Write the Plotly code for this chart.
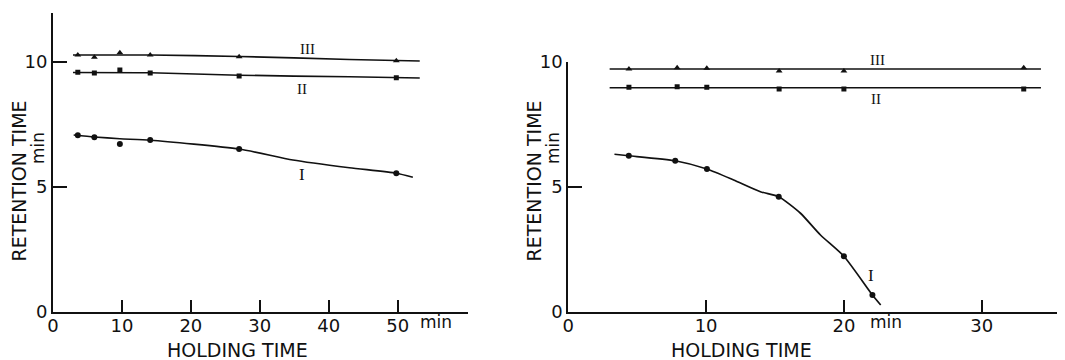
import plotly.graph_objects as go

# ---------------- data ----------------
# Left panel: measured points
left_x = [3.6, 6.0, 9.7, 14.1, 27.0, 49.8]
left_III = [10.28, 10.19, 10.37, 10.28, 10.21, 10.05]
left_II = [9.59, 9.56, 9.68, 9.56, 9.44, 9.37]
left_I = [7.07, 6.99, 6.72, 6.88, 6.52, 5.55]
# Left panel: drawn curves
left_III_cx = [2.9, 14.1, 27.0, 43.0, 53.2]
left_III_cy = [10.28, 10.28, 10.22, 10.10, 10.04]
left_II_cx = [2.9, 14.1, 27.0, 43.0, 53.2]
left_II_cy = [9.58, 9.57, 9.47, 9.41, 9.36]
left_I_cx = [3.0, 6.0, 9.7, 14.1, 27.0, 34.8, 43.0, 49.8, 52.2]
left_I_cy = [7.08, 7.00, 6.93, 6.87, 6.52, 6.08, 5.77, 5.55, 5.39]

# Right panel: measured points
right_x = [4.4, 7.9, 10.05, 15.3, 20.0, 33.05]
right_III = [9.72, 9.77, 9.75, 9.64, 9.64, 9.77]
right_II = [8.99, 9.01, 8.99, 8.92, 8.92, 8.92]
right_I_x = [4.39, 7.76, 10.06, 15.27, 20.0, 22.07]
right_I = [6.25, 6.05, 5.72, 4.61, 2.23, 0.68]
# Right panel: drawn curves
right_III_cx = [3.0, 34.3]
right_III_cy = [9.72, 9.72]
right_II_cx = [3.0, 34.3]
right_II_cy = [8.97, 8.97]
right_I_cx = [3.35, 4.39, 7.76, 10.06, 12.0, 13.94, 15.27, 16.85, 18.3, 20.0, 22.07, 22.67]
right_I_cy = [6.31, 6.25, 6.05, 5.72, 5.28, 4.81, 4.61, 3.95, 3.08, 2.23, 0.68, 0.28]

left_xticks = [0, 10, 20, 30, 40, 50]
right_xticks = [0, 10, 20, 30]
yticks = [0, 5, 10]

W, H = 1057, 352
OFF = 8  # default page margin of the browser
FONT = "DejaVu Sans"
INK = "#111111"

fig = go.Figure()

def curve(x, y, xa, ya):
    fig.add_trace(go.Scatter(x=x, y=y, mode="lines", xaxis=xa, yaxis=ya,
                             line=dict(color=INK, width=1.7, shape="spline", smoothing=0.6),
                             showlegend=False, hoverinfo="skip", cliponaxis=False))

def pts(x, y, xa, ya, symbol, size):
    fig.add_trace(go.Scatter(x=x, y=y, mode="markers", xaxis=xa, yaxis=ya,
                             marker=dict(symbol=symbol, size=size, color=INK),
                             showlegend=False, cliponaxis=False))

curve(left_III_cx, left_III_cy, "x", "y")
curve(left_II_cx, left_II_cy, "x", "y")
curve(left_I_cx, left_I_cy, "x", "y")
pts(left_x, left_III, "x", "y", "triangle-up", 6)
pts(left_x, left_II, "x", "y", "square", 5)
pts(left_x, left_I, "x", "y", "circle", 6)

curve(right_III_cx, right_III_cy, "x2", "y2")
curve(right_II_cx, right_II_cy, "x2", "y2")
curve(right_I_cx, right_I_cy, "x2", "y2")
pts(right_x, right_III, "x2", "y2", "triangle-up", 6)
pts(right_x, right_II, "x2", "y2", "square", 5)
pts(right_I_x, right_I, "x2", "y2", "circle", 6)

axis_common = dict(showline=True, linecolor=INK, linewidth=2, showgrid=False, zeroline=False,
                   ticks="inside", tickcolor=INK, tickwidth=2, automargin=False,
                   tickfont=dict(family=FONT, size=18, color=INK))

def px_x(p):
    return (p - OFF) / W

def px_y(p):
    return 1 - (p - OFF) / H

fig.update_layout(
    width=W, height=H, margin=dict(l=0, r=0, t=0, b=0, autoexpand=False),
    paper_bgcolor="white", plot_bgcolor="white",
    xaxis=dict(domain=[px_x(53), px_x(468)], range=[0, 60.2], anchor="y",
               tickvals=left_xticks, ticklen=12, ticklabelstandoff=-4, **axis_common),
    yaxis=dict(domain=[px_y(312), px_y(13)], range=[0, 11.96], anchor="x",
               tickvals=yticks, ticklen=14, **axis_common),
    xaxis2=dict(domain=[px_x(568.3), px_x(1063)], range=[0, 35.9], anchor="y2",
                tickvals=right_xticks, ticklen=12, ticklabelstandoff=-4, **axis_common),
    yaxis2=dict(domain=[px_y(312), px_y(62)], range=[0, 10], anchor="x2",
                tickvals=yticks, ticklen=14, **axis_common),
)

ann = []
def text_paper(t, x, y, size, angle=0, family=FONT):
    ann.append(dict(text=t, x=px_x(x), y=px_y(y), xref="paper", yref="paper",
                    showarrow=False, textangle=angle, xanchor="center", yanchor="middle",
                    font=dict(family=family, size=size, color=INK)))

# axis titles
text_paper("HOLDING TIME", 237, 350, 19)
text_paper("HOLDING TIME", 741, 350, 19)
text_paper("RETENTION TIME", 18.5, 181, 19, -90)
text_paper("RETENTION TIME", 533.5, 181, 19, -90)
text_paper("min", 38, 148, 17, -90)
text_paper("min", 553, 148, 17, -90)
text_paper("min", 436, 322, 17)
text_paper("min", 886, 322, 17)

# curve labels (pixel positions)
text_paper("III", 307, 49, 15, family="Liberation Serif")
text_paper("II", 302, 89, 15, family="Liberation Serif")
text_paper("I", 302, 174, 17, family="Liberation Serif")
text_paper("III", 877, 60, 15, family="Liberation Serif")
text_paper("II", 876, 99, 15, family="Liberation Serif")
text_paper("I", 871, 275, 17, family="Liberation Serif")

fig.update_layout(annotations=ann)
fig.write_html("out.html")
